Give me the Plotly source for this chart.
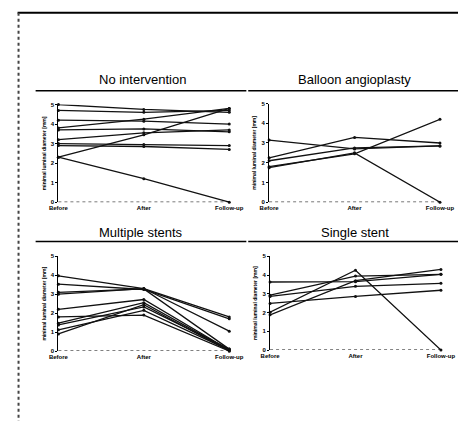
import plotly.graph_objects as go

timepoints = ["Before", "After", "Follow-up"]

no_intervention = [
    [5.0, 4.75, 4.6],
    [4.7, 4.6, 4.7],
    [4.2, 4.15, 4.0],
    [3.8, 4.25, 4.8],
    [3.7, 3.75, 3.6],
    [3.2, 3.55, 3.7],
    [3.0, 2.95, 2.9],
    [2.9, 2.85, 2.7],
    [2.3, 3.45, 4.8],
    [2.3, 1.2, 0.0],
]
balloon = [
    [3.15, 2.7, 2.85],
    [2.25, 3.28, 3.0],
    [2.1, 2.75, 2.85],
    [1.8, 2.45, 4.2],
    [1.75, 2.5, 0.0],
]
multiple_stents = [
    [3.97, 3.3, 1.8],
    [3.53, 3.25, 1.7],
    [3.1, 3.28, 0.1],
    [3.0, 3.3, 1.05],
    [2.2, 2.72, 0.05],
    [1.8, 1.9, 0.0],
    [1.47, 2.55, 0.05],
    [1.38, 2.33, 0.1],
    [1.12, 2.15, 0.05],
    [0.9, 2.45, 0.0],
]
single_stent = [
    [3.63, 3.65, 4.04],
    [2.93, 3.95, 4.04],
    [2.86, 3.4, 3.56],
    [2.49, 2.86, 3.19],
    [2.02, 4.26, 0.0],
    [1.88, 3.7, 4.3],
]

panel_titles = ["No intervention", "Balloon angioplasty", "Multiple stents", "Single stent"]
panel_data = [no_intervention, balloon, multiple_stents, single_stent]
y_ticks = [0, 1, 2, 3, 4, 5]
y_title = "minimal luminal diameter [mm]"

W, H = 472, 424
def fx(px): return px / W
def fy(py): return 1 - py / H

# plot areas in pixels: (x_before, x_follow, y_zero, y_five)
areas = [(51, 231, 202, 103), (273, 453, 202, 102), (51, 231, 353, 257), (274, 454, 352, 257)]
title_pos = [(140, 78), (363, 78), (138, 233), (363, 233)]

fig = go.Figure()
layout = dict(width=W, height=H, margin=dict(l=0, r=0, t=0, b=0),
              paper_bgcolor="white", plot_bgcolor="white", showlegend=False)

annotations = []
shapes = []
for i, (data, title, area) in enumerate(zip(panel_data, panel_titles, areas)):
    n = i + 1
    xa = "x" if n == 1 else f"x{n}"
    ya = "y" if n == 1 else f"y{n}"
    for series in data:
        fig.add_trace(go.Scatter(
            x=timepoints, y=series, xaxis=xa, yaxis=ya, mode="lines+markers",
            line=dict(color="#111111", width=1.3),
            marker=dict(color="#111111", size=3),
            cliponaxis=False, hoverinfo="skip"))
    x0, x1, y0, y5 = area
    layout["xaxis" if n == 1 else f"xaxis{n}"] = dict(
        domain=[fx(x0), fx(x1)], anchor=ya, type="category",
        range=[0, 2], showgrid=False, zeroline=False, showline=False,
        tickvals=timepoints, ticktext=[f"<b>{t}</b>" for t in timepoints],
        ticks="", tickfont=dict(size=6, family="Liberation Sans", color="black"),
        ticklabelstandoff=1)
    layout["yaxis" if n == 1 else f"yaxis{n}"] = dict(
        domain=[fy(y0), fy(y5)], anchor=xa, range=[0, 5],
        tickvals=y_ticks, ticktext=[f"<b>{v}</b>" for v in y_ticks],
        showgrid=False, zeroline=False, showline=True, linecolor="black", linewidth=1,
        ticks="outside", ticklen=2, tickcolor="black",
        tickfont=dict(size=6, family="Liberation Sans", color="black"),
        title=dict(text=f"<b>{y_title}</b>",
                   font=dict(size=5, family="Liberation Sans", color="black"),
                   standoff=4))
    shapes.append(dict(type="line", xref=f"{xa} domain", yref=ya, x0=0, x1=1, y0=0, y1=0,
                       line=dict(color="black", width=1, dash="dot")))
    tx, ty = title_pos[i]
    annotations.append(dict(text=title, x=fx(tx), y=fy(ty), xref="paper", yref="paper",
                            showarrow=False, xanchor="center", yanchor="middle",
                            font=dict(size=13, family="Liberation Sans", color="black")))

# page frame lines and title rules
shapes += [
    dict(type="line", xref="paper", yref="paper", x0=fx(8), x1=1, y0=fy(10), y1=fy(10),
         line=dict(color="black", width=2)),
    dict(type="line", xref="paper", yref="paper", x0=fx(9), x1=fx(9), y0=fy(10), y1=0,
         line=dict(color="#444444", width=2, dash="dot")),
    dict(type="line", xref="paper", yref="paper", x0=fx(27), x1=fx(249), y0=fy(89), y1=fy(89),
         line=dict(color="black", width=1.5)),
    dict(type="line", xref="paper", yref="paper", x0=fx(251), x1=1, y0=fy(89), y1=fy(89),
         line=dict(color="black", width=1.5)),
    dict(type="line", xref="paper", yref="paper", x0=fx(27), x1=fx(249), y0=fy(242), y1=fy(242),
         line=dict(color="black", width=1.5)),
    dict(type="line", xref="paper", yref="paper", x0=fx(251), x1=1, y0=fy(242), y1=fy(242),
         line=dict(color="black", width=1.5)),
]
layout["annotations"] = annotations
layout["shapes"] = shapes
fig.update_layout(**layout)
fig.write_html("out.html", config={"displayModeBar": False},
               post_script="document.body.style.margin='0';document.body.style.overflow='hidden';")
